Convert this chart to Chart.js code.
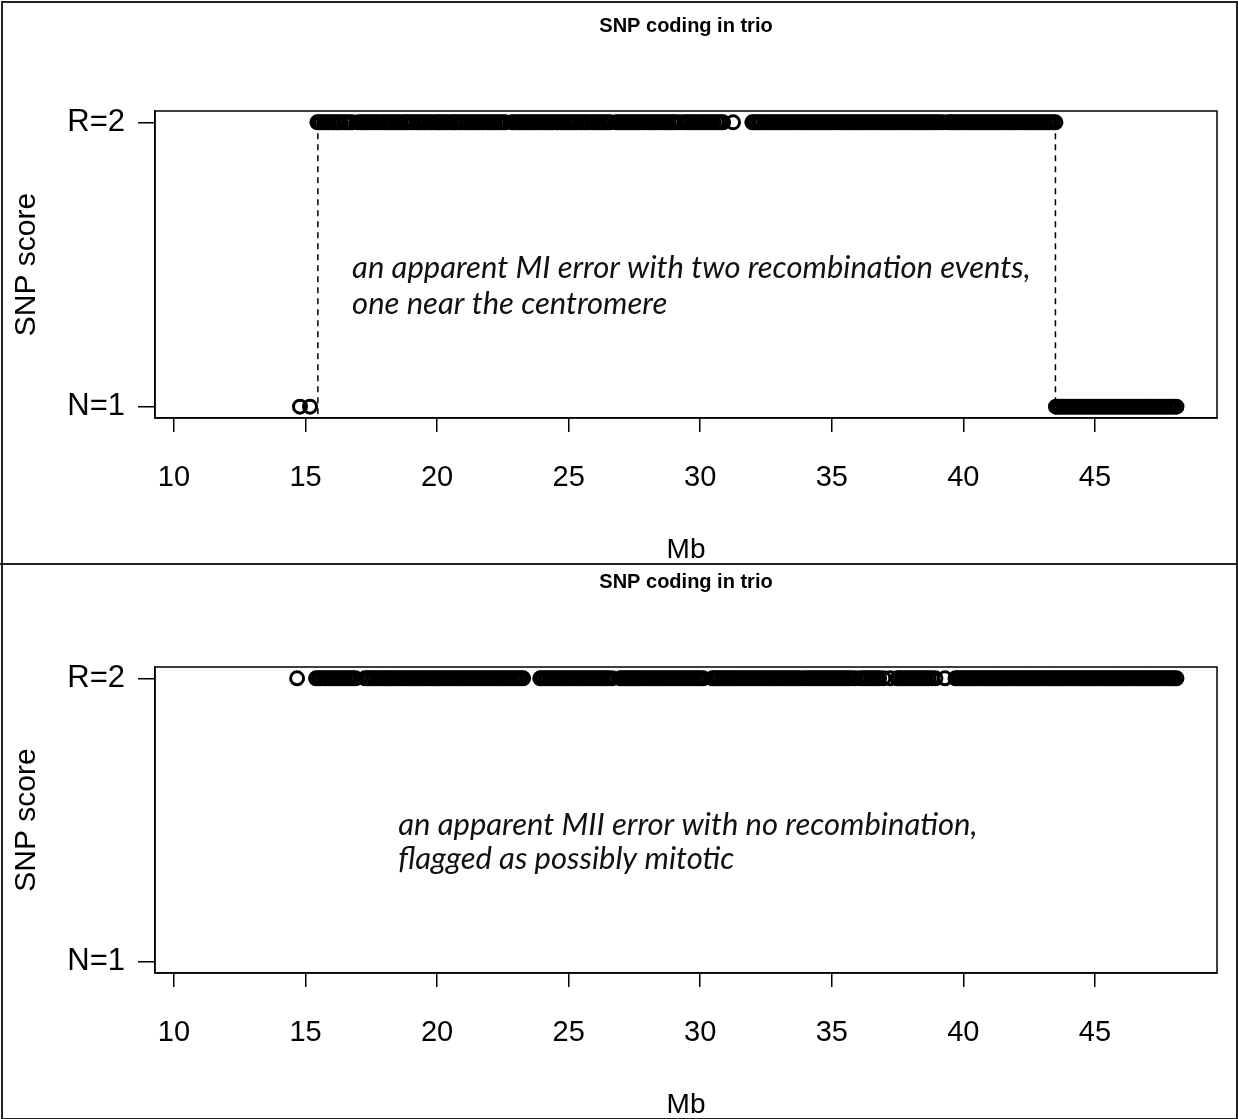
<!DOCTYPE html>
<html>
<head>
<meta charset="utf-8">
<script src="https://cdn.jsdelivr.net/npm/chart.js@4/dist/chart.umd.min.js"></script>
<style>
body{margin:0;background:#fff;}
#page{position:relative;width:1238px;height:1119px;overflow:hidden;}
#frame{position:absolute;left:1px;top:1px;width:1233px;height:1115px;border:2px solid #222;}
#split{position:absolute;left:0;top:563px;width:1238px;height:2px;background:#222;}
canvas{position:absolute;left:0;}
#c1{top:0;}
#c2{top:556px;}
</style>
</head>
<body>
<div id="page">
<canvas id="c1" width="1238" height="564"></canvas>
<canvas id="c2" width="1238" height="563"></canvas>
<div id="frame"></div>
<div id="split"></div>
</div>
<script>
// tick values and labels
xTicks = [10, 15, 20, 25, 30, 35, 40, 45];
yTicks = [1, 2];
yTickLabels = ['N=1', 'R=2'];

// SNP positions (Mb), top trio
topR2 = [15.45,15.52,15.6,15.71,15.8,15.88,15.99,16.07,16.18,16.26,16.35,16.47,16.55,16.66,16.77,
 17.0,17.12,17.2,17.31,17.38,17.5,17.61,17.69,17.8,17.92,18.0,18.1,18.21,18.3,18.42,18.5,18.6,18.73,18.81,18.9,
 19.02,19.1,19.22,19.3,19.41,19.52,19.6,19.71,19.8,19.93,20.01,20.1,20.22,20.3,20.4,20.51,20.63,20.7,20.82,20.9,
 21.01,21.12,21.2,21.31,21.4,21.52,21.6,21.72,21.8,21.91,22.0,22.12,22.2,22.31,22.4,22.5,22.59,
 22.85,22.93,23.05,23.14,23.22,23.33,23.41,23.52,23.6,23.71,23.8,23.9,24.02,24.1,24.21,24.3,24.4,24.52,24.6,24.71,
 24.8,24.92,25.0,25.1,25.21,25.3,25.42,25.5,25.61,25.7,25.8,25.92,26.0,26.11,26.2,26.3,26.41,26.5,26.58,
 26.8,26.9,27.01,27.1,27.2,27.31,27.4,27.52,27.6,27.7,27.81,27.9,28.02,28.1,28.2,28.31,28.4,28.5,28.62,28.7,28.8,28.92,29.0,29.1,29.24,
 29.4,29.5,29.6,29.71,29.8,29.9,30.02,30.1,30.2,30.31,30.4,30.5,30.62,30.7,30.8,30.87,
 31.25,
 31.98,32.06,32.15,32.25,32.33,32.44,32.52,32.6,32.71,32.8,32.9,33.01,33.1,33.2,33.3,33.41,33.5,33.6,33.7,33.81,33.9,
 34.0,34.1,34.21,34.3,34.4,34.52,34.6,34.7,34.8,34.91,35.0,35.1,35.2,35.31,35.4,35.5,35.61,35.7,35.8,35.9,
 36.01,36.1,36.2,36.3,36.41,36.5,36.6,36.7,36.81,36.9,37.0,37.1,37.21,37.3,37.4,37.5,37.61,37.7,37.8,37.9,
 38.01,38.1,38.2,38.3,38.41,38.5,38.6,38.7,38.81,38.9,39.0,39.1,39.24,
 39.43,39.52,39.6,39.71,39.8,39.9,40.0,40.1,40.21,40.3,40.4,40.5,40.61,40.7,40.8,40.9,41.0,41.1,41.21,41.3,41.4,41.5,
 41.6,41.71,41.8,41.9,42.0,42.1,42.2,42.31,42.4,42.5,42.6,42.7,42.8,42.9,43.0,43.1,43.2,43.3,43.4,43.5];
topN1 = [14.79,15.17,
 43.52,43.6,43.7,43.8,43.9,44.0,44.1,44.2,44.31,44.4,44.5,44.6,44.7,44.8,44.9,45.0,45.1,45.2,45.3,45.4,45.5,45.6,
 45.7,45.8,45.9,46.0,46.1,46.2,46.3,46.4,46.5,46.6,46.7,46.8,46.9,47.0,47.1,47.2,47.3,47.4,47.5,47.6,47.7,47.8,47.9,48.0,48.1];
topBreaks = [15.47, 43.5];

// SNP positions (Mb), bottom trio
bottomR2 = [14.68,
 15.4,15.5,15.58,15.69,15.78,15.9,16.0,16.1,16.2,16.3,16.41,16.5,16.6,16.7,16.8,16.9,
 17.26,17.35,17.44,17.55,17.63,17.74,17.82,17.93,18.02,18.1,18.21,18.3,18.4,18.51,18.6,18.7,18.8,18.91,19.0,19.1,19.2,
 19.31,19.4,19.5,19.6,19.7,19.81,19.9,20.0,20.1,20.2,20.31,20.4,20.5,20.6,20.7,20.81,20.9,21.0,21.1,21.2,21.3,21.41,
 21.5,21.6,21.7,21.8,21.9,22.0,22.1,22.21,22.3,22.4,22.5,22.6,22.7,22.8,22.9,23.0,23.1,23.2,23.27,
 23.92,24.0,24.1,24.2,24.3,24.4,24.5,24.6,24.71,24.8,24.9,25.0,25.1,25.2,25.3,25.4,25.5,25.6,25.7,25.8,25.9,26.0,
 26.1,26.2,26.3,26.4,26.5,26.65,
 26.96,27.05,27.15,27.24,27.33,27.42,27.51,27.6,27.7,27.8,27.9,28.0,28.1,28.2,28.3,28.4,28.5,28.6,28.7,28.8,28.9,
 29.0,29.1,29.2,29.3,29.4,29.5,29.6,29.7,29.8,29.9,30.0,30.11,
 30.46,30.55,30.65,30.74,30.84,30.93,31.03,31.12,31.22,31.31,31.4,31.5,31.6,31.7,31.8,31.9,32.0,32.1,32.2,32.3,32.4,
 32.5,32.6,32.7,32.8,32.9,33.0,33.1,33.2,33.3,33.4,33.5,33.6,33.7,33.8,
 33.95,34.05,34.15,34.25,34.35,34.45,34.55,34.65,34.75,34.85,34.95,35.05,35.15,35.25,35.35,35.45,35.55,35.65,35.75,35.89,
 36.08,36.18,36.3,36.4,36.5,36.6,36.7,36.8,36.96,
 37.22,
 37.49,37.58,37.68,37.78,37.88,37.98,38.08,38.18,38.28,38.38,38.48,38.58,38.68,38.8,38.94,39.3,
 39.7,39.79,39.88,39.98,40.07,40.16,40.26,40.35,40.44,40.54,40.63,40.72,40.82,40.91,41.0,41.1,41.19,41.28,41.38,41.47,
 41.56,41.66,41.75,41.84,41.94,42.03,42.12,42.22,42.31,42.4,42.5,42.59,42.68,42.78,42.87,42.96,43.06,43.15,43.24,43.34,
 43.43,43.52,43.62,43.71,43.8,43.9,43.99,44.08,44.18,44.27,44.36,44.46,44.55,44.64,44.74,44.83,44.92,45.02,45.11,45.2,
 45.3,45.39,45.48,45.58,45.67,45.76,45.86,45.95,46.04,46.14,46.23,46.32,46.42,46.51,46.6,46.7,46.79,46.88,46.98,47.07,
 47.16,47.26,47.35,47.44,47.54,47.63,47.72,47.82,47.91,48.0,48.1];
bottomN1 = [];
bottomBreaks = [];

topNote = ['an apparent MI error with two recombination events,', 'one near the centromere'];
bottomNote = ['an apparent MII error with no recombination,', 'flagged as possibly mitotic'];
plotTitle = 'SNP coding in trio';

var R = 'Liberation Sans, Arial, sans-serif';

// box round the plot region (like R's box()) and the main title centred on it
var boxPlugin = {
  id: 'box',
  afterDraw: function(chart) {
    var a = chart.chartArea, ctx = chart.ctx;
    ctx.save();
    ctx.strokeStyle = '#000';
    ctx.lineWidth = 1.5;
    ctx.strokeRect(a.left, a.top, a.right - a.left, a.bottom - a.top);
    ctx.fillStyle = '#000';
    ctx.font = 'bold 20px ' + R;
    ctx.textAlign = 'center';
    ctx.textBaseline = 'middle';
    ctx.fillText(plotTitle, (a.left + a.right) / 2, 26);
    ctx.restore();
  }
};

// italic note inside the plot
var notePlugin = {
  id: 'note',
  afterDatasetsDraw: function(chart, args, opts) {
    var ctx = chart.ctx;
    var x = chart.scales.x.getPixelForValue(opts.x);
    ctx.save();
    ctx.fillStyle = '#111';
    ctx.font = 'italic 31px Lato, "Open Sans", sans-serif';
    ctx.textAlign = 'left';
    ctx.textBaseline = 'middle';
    for (var i = 0; i < opts.lines.length; i++) {
      ctx.fillText(opts.lines[i], x, chart.scales.y.getPixelForValue(opts.y[i]));
    }
    ctx.restore();
  }
};

function toPoints(arr, y) {
  return arr.map(function(v) { return {x: v, y: y}; });
}

function makeChart(id, r2, n1, breaks, note) {
  var datasets = [];
  for (var i = 0; i < breaks.length; i++) {
    datasets.push({
      type: 'line',
      data: [{x: breaks[i], y: 2}, {x: breaks[i], y: 0.96}],
      borderColor: '#000',
      borderWidth: 1.5,
      borderDash: [6, 5],
      pointRadius: 0,
      fill: false
    });
  }
  datasets.push({
    data: toPoints(r2, 2).concat(toPoints(n1, 1)),
    pointStyle: 'circle',
    pointRadius: 6.5,
    borderWidth: 3,
    borderColor: '#000',
    backgroundColor: 'rgba(0,0,0,0)'
  });

  return new Chart(document.getElementById(id).getContext('2d'), {
    type: 'scatter',
    data: {datasets: datasets},
    plugins: [boxPlugin, notePlugin],
    options: {
      responsive: false,
      animation: false,
      events: [],
      layout: {padding: {left: 0, right: 21, top: 111, bottom: 0}},
      plugins: {
        legend: {display: false},
        tooltip: {enabled: false},
        title: {display: false},
        note: {x: note.x, y: note.y, lines: note.lines}
      },
      scales: {
        x: {
          type: 'linear',
          min: 9.28,
          max: 49.64,
          afterBuildTicks: function(s) { s.ticks = xTicks.map(function(v) { return {value: v}; }); },
          afterFit: function(s) { s.height = 146; },
          grid: {drawOnChartArea: false, drawTicks: true, tickLength: 14, color: '#000', lineWidth: 1.5},
          border: {display: true, color: '#000', width: 1.5},
          ticks: {color: '#000', font: {family: R, size: 29}, padding: 29, maxRotation: 0},
          title: {display: true, text: 'Mb', color: '#000', font: {family: R, size: 28}, padding: {top: 0, bottom: -3}}
        },
        y: {
          type: 'linear',
          min: 0.96,
          max: 2.04,
          afterBuildTicks: function(s) { s.ticks = yTicks.map(function(v) { return {value: v}; }); },
          afterFit: function(s) { s.width = 155; },
          grid: {drawOnChartArea: false, drawTicks: true, tickLength: 17, color: '#000', lineWidth: 1.5},
          border: {display: true, color: '#000', width: 1.5},
          ticks: {
            color: '#000',
            font: {family: R, size: 31},
            padding: 13,
            callback: function(v) { return yTickLabels[yTicks.indexOf(v)]; }
          },
          title: {display: true, text: 'SNP score', color: '#000', font: {family: R, size: 30}, padding: {top: 9, bottom: 0}}
        }
      }
    }
  });
}

makeChart('c1', topR2, topN1, topBreaks, {x: 16.77, y: [1.488, 1.36], lines: topNote});
makeChart('c2', bottomR2, bottomN1, bottomBreaks, {x: 18.52, y: [1.484, 1.361], lines: bottomNote});
</script>
</body>
</html>
